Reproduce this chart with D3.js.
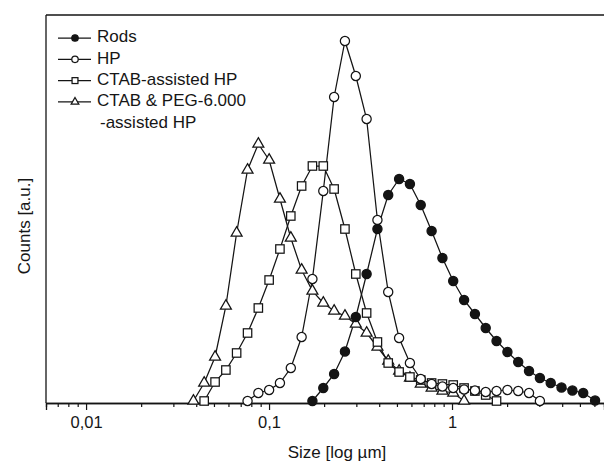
<!DOCTYPE html>
<html>
<head>
<meta charset="utf-8">
<script src="https://cdn.jsdelivr.net/npm/d3@7"></script>
<style>
  body { margin: 0; background: #fff; }
  svg { display: block; }
  text { font-family: "Liberation Sans", Arial, sans-serif; fill: #161616; }
</style>
</head>
<body>
<svg id="chart" width="604" height="464"></svg>
<script>
// ---------------------------------------------------------------------------
// Data (counts in arbitrary units)
// ---------------------------------------------------------------------------

// shared log-spaced size bins (µm)
const sizeBins = [
  0.0386, 0.0442, 0.0507, 0.0581, 0.0665, 0.0763, 0.0874, 0.1001, 0.1147, 0.1315,
  0.1507, 0.1726, 0.1979, 0.2268, 0.2599, 0.2980, 0.3414, 0.3912, 0.4480, 0.5138,
  0.5887, 0.6745, 0.7735, 0.8862, 1.015, 1.164, 1.334, 1.528, 1.751, 2.008,
  2.300, 2.635, 3.022, 3.462, 3.966, 4.549, 5.212, 6.05
];

const rodsCounts = [
  null, null, null, null, null, null, null, null, null, null,
  null, 2, 15, 29, 51.5, 86, 129, 174, 208, 224,
  219, 198, 172, 145, 122, 103, 89, 75, 62, 51,
  41, 32, 25, 20, 15.5, 12.5, 10, 2.5
];

const hpCounts = [
  null, null, null, null, null, 2, 10, 13, 20, 35,
  66, 124, 212, 306, 362, 327, 284, 183, 111, 65,
  40, 24, 19, 16.5, 15, 13.5, 12.5, 11, 12, 13,
  12, 10, 2, null, null, null, null, null
];

const ctabCounts = [
  null, 2, 21, 33, 50, 70, 95, 123, 154, 187,
  217, 237, 237, 214, 174, 129, 90, 61, 40, 31,
  26, 23, 20, 19, 18, 15, 12, 8, 2, null,
  null, null, null, null, null, null, null, null
];

const pegCounts = [
  2, 20, 46, 97, 170, 233, 259, 243, 204, 165,
  133, 112, 100, 92, 87, 79, 70, 56, 42, 32,
  25, 19, 15, 12, 10, 2, null, null, null, null,
  null, null, null, null, null, null, null, null
];

const seriesNames = ['Rods', 'HP', 'CTAB-assisted HP', 'CTAB & PEG-6.000'];
const legendExtra = '-assisted HP';

const majorTicks = [0.01, 0.1, 1];
const minorTicks = [0.007, 0.008, 0.009, 0.02, 0.03, 0.04, 0.05, 0.06, 0.07, 0.08, 0.09,
                    0.2, 0.3, 0.4, 0.5, 0.6, 0.7, 0.8, 0.9, 2, 3, 4, 5, 6];

const xLabel = 'Size [log µm]';
const yLabel = 'Counts [a.u.]';

// ---------------------------------------------------------------------------
// Chart
// ---------------------------------------------------------------------------

const W = 604, H = 464;
const margin = { top: 15, right: 0, bottom: 61, left: 46 };
const ink = '#141414';

const svg = d3.select('#chart');

const x = d3.scaleLog().domain([0.00604, 6.77]).range([margin.left, W - margin.right]);
const y = d3.scaleLinear().domain([0, 388]).range([H - margin.bottom, margin.top]);

// frame: top line + left axis
svg.append('line')
  .attr('x1', margin.left).attr('x2', W).attr('y1', margin.top).attr('y2', margin.top)
  .attr('stroke', ink).attr('stroke-width', 1.3);
svg.append('line')
  .attr('x1', margin.left).attr('x2', margin.left)
  .attr('y1', margin.top).attr('y2', H - margin.bottom)
  .attr('stroke', ink).attr('stroke-width', 1.3);

// x axis
const xMinor = svg.append('g')
  .attr('transform', `translate(0,${H - margin.bottom})`)
  .call(d3.axisBottom(x).tickValues(minorTicks).tickSize(4).tickFormat(''));
const xMajor = svg.append('g')
  .attr('transform', `translate(0,${H - margin.bottom})`)
  .call(d3.axisBottom(x).tickValues(majorTicks).tickSize(7).tickPadding(6)
    .tickFormat(d => String(d).replace('.', ',')));

[xMinor, xMajor].forEach(g => {
  g.select('.domain').attr('stroke', ink).attr('stroke-width', 1.3);
  g.selectAll('.tick line').attr('stroke', ink).attr('stroke-width', 1.2);
});
xMajor.selectAll('text')
  .style('font-size', '16.5px')
  .style('font-family', '"Liberation Sans", Arial, sans-serif')
  .attr('fill', ink);

// axis titles
svg.append('text')
  .attr('x', 337).attr('y', 458)
  .attr('text-anchor', 'middle').attr('font-size', 17)
  .text(xLabel);
svg.append('text')
  .attr('transform', 'translate(26,226) rotate(-90)')
  .attr('text-anchor', 'middle').attr('dominant-baseline', 'middle')
  .attr('font-size', 17)
  .text(yLabel);

// series
const series = [
  { name: seriesNames[3], counts: pegCounts,  symbol: 'triangle' },
  { name: seriesNames[2], counts: ctabCounts, symbol: 'square' },
  { name: seriesNames[1], counts: hpCounts,   symbol: 'circleOpen' },
  { name: seriesNames[0], counts: rodsCounts, symbol: 'circleFilled' },
];

function drawMarker(g, kind, scale) {
  const s = scale || 1;
  if (kind === 'circleOpen' || kind === 'circleFilled') {
    g.append('circle').attr('r', 4.6 * s)
      .attr('fill', kind === 'circleFilled' ? ink : '#fff')
      .attr('stroke', ink).attr('stroke-width', 1.25);
  } else if (kind === 'square') {
    g.append('rect')
      .attr('x', -4.2 * s).attr('y', -4.2 * s)
      .attr('width', 8.4 * s).attr('height', 8.4 * s)
      .attr('fill', '#fff').attr('stroke', ink).attr('stroke-width', 1.25);
  } else {
    g.append('path')
      .attr('d', d3.symbol().type(d3.symbolTriangle).size(52 * s * s)())
      .attr('fill', '#fff').attr('stroke', ink).attr('stroke-width', 1.25);
  }
}

const line = d3.line()
  .defined(d => d.c != null)
  .x(d => x(d.s))
  .y(d => y(d.c));

series.forEach(sr => {
  const pts = sizeBins.map((s, i) => ({ s, c: sr.counts[i] }));
  svg.append('path')
    .datum(pts)
    .attr('fill', 'none').attr('stroke', ink).attr('stroke-width', 1.25)
    .attr('d', line);
});

series.forEach(sr => {
  const pts = sizeBins.map((s, i) => ({ s, c: sr.counts[i] })).filter(d => d.c != null);
  svg.append('g').selectAll('g')
    .data(pts).join('g')
    .attr('transform', d => `translate(${x(d.s)},${y(d.c)})`)
    .each(function () { drawMarker(d3.select(this), sr.symbol); });
});

// legend
const legendKinds = ['circleFilled', 'circleOpen', 'square', 'triangle'];
const legend = svg.append('g');
seriesNames.forEach((name, i) => {
  const ly = 38 + i * 21.3;
  const row = legend.append('g').attr('transform', `translate(0,${ly})`);
  row.append('line').attr('x1', 58).attr('x2', 91).attr('y1', 0).attr('y2', 0)
    .attr('stroke', ink).attr('stroke-width', 1.25);
  const m = row.append('g').attr('transform', 'translate(75,0)');
  drawMarker(m, legendKinds[i], 0.7);
  row.append('text').attr('x', 97).attr('y', 0)
    .attr('dominant-baseline', 'middle').attr('font-size', 17)
    .text(name);
});
legend.append('text')
  .attr('x', 100).attr('y', 38 + 4 * 21.3)
  .attr('dominant-baseline', 'middle').attr('font-size', 17)
  .text(legendExtra);
</script>
</body>
</html>
